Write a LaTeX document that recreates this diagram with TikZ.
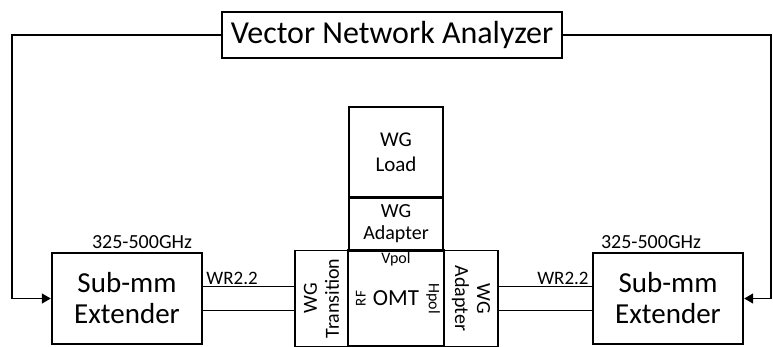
\documentclass[tikz,border=0pt]{standalone}
\usepackage{fontspec}
\setmainfont{Carlito}
\usepackage{tikz}
\usetikzlibrary{arrows.meta,positioning,calc}

\begin{document}
\begin{tikzpicture}[x=1pt,y=-1pt,
    blk/.style={draw,line width=2.4pt,inner sep=0pt,align=center},
    wgblk/.style={draw,line width=1.5pt,inner sep=0pt,align=center},
    wire/.style={line width=1.5pt},
    lbl/.style={inner sep=1pt,font=\fontsize{20}{22}\selectfont}]
  \useasboundingbox (0,0) rectangle (773,347);
  \node[blk,minimum width=340,minimum height=46,font=\fontsize{32}{34}\selectfont] (vna) at (392,35) {Vector Network Analyzer};
  \node[blk,minimum width=150,minimum height=91,font=\fontsize{29}{31}\selectfont] (ext1) at (127,298.5) {Sub-mm\\Extender};
  \node[blk,minimum width=150,minimum height=91,font=\fontsize{29}{31}\selectfont] (ext2) at (668,298.5) {Sub-mm\\Extender};
  \node[wgblk,minimum width=94,minimum height=90,font=\fontsize{21}{25}\selectfont] (load) at (396,152) {WG\\Load};
  \node[wgblk,minimum width=94,minimum height=53,font=\fontsize{20}{22}\selectfont] (adtop) at (396,223.5) {WG\\Adapter};
  \node[wgblk,minimum width=96,minimum height=53,font=\fontsize{20}{22}\selectfont,rotate=90] (trans) at (321.5,298.5) {WG\\Transition};
  \node[blk,minimum width=96,minimum height=96,font=\fontsize{23}{25}\selectfont] (omt) at (396,298.5) {OMT};
  \node[wgblk,minimum width=96,minimum height=54,font=\fontsize{20}{22}\selectfont,rotate=-90] (adrt) at (471,298.5) {WG\\Adapter};
  \draw[line width=2.4pt] (load.south west) -- (load.south east);
  \coordinate (lcorner) at (12,298.5);
  \coordinate (rcorner) at (771,298.5);
  \draw[wire,-{Triangle[length=9pt,width=10pt]}] (vna.west) -| (lcorner) -- (ext1.west);
  \draw[wire,-{Triangle[length=9pt,width=10pt]}] (vna.east) -| (rcorner) -- (ext2.east);
  \foreach \s in {12,-12}
    {\draw[wire] ([yshift=\s pt]ext1.east) -- ([yshift=\s pt]ext1.east -| trans.north);
     \draw[wire] ([yshift=\s pt]ext2.west) -- ([yshift=\s pt]ext2.west -| adrt.north);}
  \node[lbl,anchor=south] (f1) at ([xshift=15pt,yshift=2pt]ext1.north) {325-500GHz};
  \node[lbl,anchor=south] (f2) at ([xshift=-17pt,yshift=2pt]ext2.north) {325-500GHz};
  \node[lbl,font=\fontsize{19}{21}\selectfont,anchor=south west] (wr1) at ([xshift=2pt,yshift=13pt]ext1.east) {WR2.2};
  \node[lbl,font=\fontsize{19}{21}\selectfont,anchor=south east] (wr2) at ([xshift=-2pt,yshift=13pt]ext2.west) {WR2.2};
  \node[inner sep=1pt,anchor=north,font=\fontsize{16}{18}\selectfont] (vpol) at ([yshift=-2pt]omt.north) {Vpol};
  \node[inner sep=1pt,rotate=90,font=\fontsize{15}{17}\selectfont] (rf) at ([xshift=14pt]omt.west) {RF};
  \node[inner sep=1pt,rotate=-90,font=\fontsize{16}{18}\selectfont] (hpol) at ([xshift=-12pt]omt.east) {Hpol};
\end{tikzpicture}
\end{document}
